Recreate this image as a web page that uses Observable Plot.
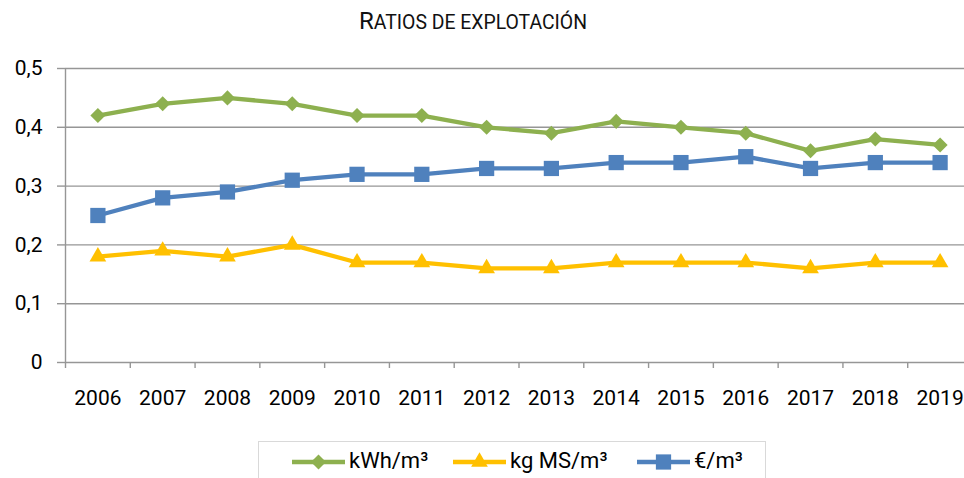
<!DOCTYPE html>
<html>
<head>
<meta charset="utf-8">
<script src="https://cdn.jsdelivr.net/npm/d3@7"></script>
<script src="https://cdn.jsdelivr.net/npm/@observablehq/plot@0.6"></script>
<style>
  html, body { margin: 0; padding: 0; background: #fff; overflow: hidden; }
  #wrap { position: relative; width: 964px; height: 478px; font-family: Roboto, "Noto Sans", sans-serif; color: #000; }
  #title { position: absolute; left: 0; top: 6px; width: 946px; line-height: 30px; text-align: center; font-size: 24px; color: #111; }
  #title .sc { font-size: 19.4px; }
  #chart { position: absolute; left: 0; top: 48px; }
  #legend { position: absolute; left: 0; top: 0; }
</style>
</head>
<body>
<div id="wrap">
  <div id="title">R<span class="sc">ATIOS DE EXPLOTACIÓN</span></div>
  <div id="chart"></div>
  <svg id="legend" width="964" height="478"></svg>
</div>
<script>
const years = [2006, 2007, 2008, 2009, 2010, 2011, 2012, 2013, 2014, 2015, 2016, 2017, 2018, 2019];
const kwhPerM3 = [0.42, 0.44, 0.45, 0.44, 0.42, 0.42, 0.40, 0.39, 0.41, 0.40, 0.39, 0.36, 0.38, 0.37];
const kgMSPerM3 = [0.18, 0.19, 0.18, 0.20, 0.17, 0.17, 0.16, 0.16, 0.17, 0.17, 0.17, 0.16, 0.17, 0.17];
const eurPerM3 = [0.25, 0.28, 0.29, 0.31, 0.32, 0.32, 0.33, 0.33, 0.34, 0.34, 0.35, 0.33, 0.34, 0.34];
const seriesNames = ["kWh/m³", "kg MS/m³", "€/m³"];
const seriesColors = ["#8DB04F", "#FFC000", "#4F81BD"];
const seriesSymbols = ["diamond2", "triangle", "square"];
const seriesR = [6.8, 6.2, 8.6];
const yTicks = [0, 0.1, 0.2, 0.3, 0.4, 0.5];

const seriesValues = [kwhPerM3, kgMSPerM3, eurPerM3];
const data = [];
seriesNames.forEach((name, s) => {
  years.forEach((yr, i) => data.push({year: yr, serie: name, value: seriesValues[s][i]}));
});

const gridColor = "#969696";
const fmt = d => String(d).replace(".", ",");

const marks = [
  Plot.ruleY(yTicks, {stroke: gridColor, strokeWidth: 1.4}),
  Plot.ruleX([years[0] - 0.5], {y1: 0, y2: 0.5, stroke: gridColor, strokeWidth: 1.4}),
  Plot.axisY({ticks: yTicks, tickSize: 8, tickPadding: 15, tickFormat: fmt, stroke: gridColor, strokeWidth: 1.4, label: null, fontSize: 21, fill: "#000"}),
  Plot.axisX({ticks: years.map(y => y - 0.5), tickSize: 6, tickFormat: () => "", stroke: gridColor, strokeWidth: 1.4, label: null}),
  Plot.axisX({ticks: years, tickSize: 0, tickPadding: 28, tickFormat: d => String(d), label: null, fontSize: 21, fill: "#000"}),
  Plot.line(data, {x: "year", y: "value", z: "serie", stroke: "serie", strokeWidth: 4.3, strokeLinejoin: "round", strokeLinecap: "butt"})
];
seriesNames.forEach((name, s) => {
  marks.push(Plot.dot(data.filter(d => d.serie === name), {
    x: "year", y: "value", symbol: () => seriesSymbols[s], fill: seriesColors[s], stroke: "none", r: seriesR[s]
  }));
});

const chart = Plot.plot({
  width: 964,
  height: 392,
  marginLeft: 65,
  marginRight: 0,
  marginTop: 20,
  marginBottom: 78,
  x: {type: "linear", domain: [years[0] - 0.5, years[years.length - 1] + 0.5], range: [65, 972]},
  y: {domain: [0, 0.5]},
  color: {domain: seriesNames, range: seriesColors},
  symbol: {type: "identity"},
  style: {fontFamily: "Roboto, 'Noto Sans', sans-serif", fontSize: "21px", color: "#000", background: "transparent", overflow: "visible"},
  marks
});
document.getElementById("chart").appendChild(chart);

// Legend (boxed, bottom)
const lg = d3.select("#legend");
lg.append("rect").attr("x", 258.5).attr("y", 441.5).attr("width", 507).attr("height", 60)
  .attr("fill", "none").attr("stroke", "#d9d9d9").attr("stroke-width", 1);
const itemX = [292, 453, 637];
const symMap = {diamond2: d3.symbolDiamond2, triangle: d3.symbolTriangle, square: d3.symbolSquare};
seriesNames.forEach((name, s) => {
  const x0 = itemX[s], yc = 462;
  lg.append("line").attr("x1", x0).attr("x2", x0 + 53).attr("y1", yc).attr("y2", yc)
    .attr("stroke", seriesColors[s]).attr("stroke-width", 4.3);
  lg.append("path")
    .attr("d", d3.symbol(symMap[seriesSymbols[s]], Math.PI * seriesR[s] * seriesR[s])())
    .attr("transform", `translate(${x0 + 26.5},${yc})`)
    .attr("fill", seriesColors[s]);
  lg.append("text").attr("x", x0 + 57).attr("y", 468).attr("font-size", 22)
    .attr("font-family", "Roboto, 'Noto Sans', sans-serif").attr("fill", "#000").text(name);
});
</script>
</body>
</html>
